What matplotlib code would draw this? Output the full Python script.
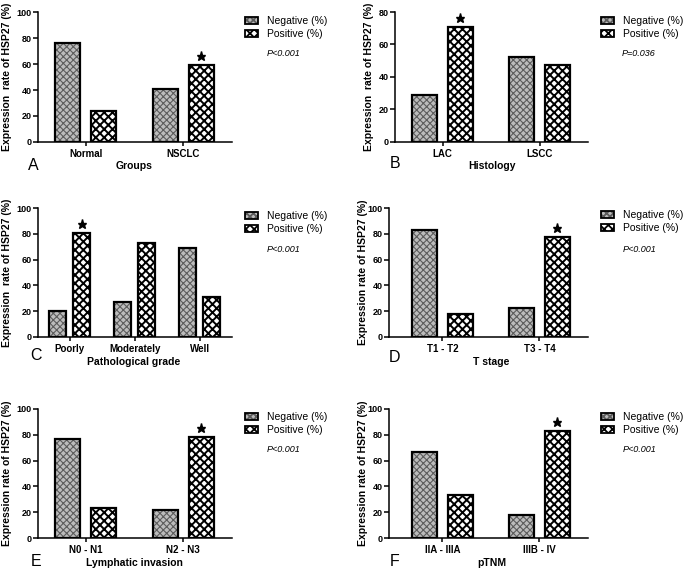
import matplotlib
matplotlib.use("Agg")
import matplotlib.pyplot as plt
from matplotlib.patches import Patch

plt.rcParams['font.family'] = ['Liberation Sans', 'DejaVu Sans']
plt.rcParams['hatch.linewidth'] = 1.3

# ---------------- data ----------------
series_names = ['Negative (%)', 'Positive (%)']

groups_A = ['Normal', 'NSCLC']
neg_A = [76.5, 41.0]
pos_A = [23.5, 59.0]

groups_B = ['LAC', 'LSCC']
neg_B = [29.0, 52.6]
pos_B = [71.0, 47.4]

groups_C = ['Poorly', 'Moderately', 'Well']
neg_C = [20.3, 27.3, 69.0]
pos_C = [80.5, 72.7, 31.0]

groups_D = ['T1 - T2', 'T3 - T4']
neg_D = [83.0, 22.8]
pos_D = [17.5, 77.8]

groups_E = ['N0 - N1', 'N2 - N3']
neg_E = [77.0, 22.0]
pos_E = [23.3, 78.2]

groups_F = ['IIA - IIIA', 'IIIB - IV']
neg_F = [67.0, 17.7]
pos_F = [33.2, 82.6]

xlabels = ['Groups', 'Histology', 'Pathological grade', 'T stage', 'Lymphatic invasion', 'pTNM']
letters = ['A', 'B', 'C', 'D', 'E', 'F']
pvalues = ['P<0.001', 'P=0.036', 'P<0.001', 'P<0.001', 'P<0.001', 'P<0.001']
star_index = [1, 0, 0, 1, 1, 1]
ymaxes = [100, 80, 100, 100, 100, 100]
ylabels = ['Expression  rate of HSP27 (%)', 'Expression  rate of HSP27 (%)',
           'Expression  rate of HSP27 (%)', 'Expression rate of HSP27 (%)',
           'Expression rate of HSP27 (%)', 'Expression rate of HSP27 (%)']

# ---------------- layout ----------------
W, H = 685, 571
fig = plt.figure(figsize=(W / 100, H / 100), dpi=100)

def fx(x):
    return x / W

def fy(y):
    return 1 - y / H

# (left, top, right, bottom) in px
axes_px = [(38, 12, 232, 142), (395, 12, 588, 142),
           (38, 208, 232, 337), (389, 208, 588, 337),
           (38, 409, 232, 538), (389, 409, 588, 538)]
xlim_left = [-0.49, -0.49, -0.49, -0.55, -0.49, -0.55]
ylabel_x = [7, 369, 7, 363, 7, 363]
legend_x = [245, 601, 245, 601, 245, 601]
legend_top = [16, 16, 211, 210, 412, 412]
ptext_xy = [(267, 54), (622, 53), (267, 250), (623, 250), (267, 450), (623, 450)]
letter_xy = [(33, 166), (395, 164), (36, 356), (395, 358), (36, 561), (395, 561)]
xlabel_xy = [(134, 166), (492, 166), (134, 362), (491, 362), (134, 563), (492, 563)]

data = [(groups_A, neg_A, pos_A), (groups_B, neg_B, pos_B), (groups_C, neg_C, pos_C),
        (groups_D, neg_D, pos_D), (groups_E, neg_E, pos_E), (groups_F, neg_F, pos_F)]

bw = 0.26
off = 0.185
NEG_FACE = '#bcbcbc'
NEG_HATCH = '#5c5c5c'
NEG_HATCH_PAT = 'xxxxx'
POS_HATCH_PAT = 'xxxx'


def set_hlw(artists, lw):
    for a in artists:
        if hasattr(a, 'set_hatch_linewidth'):
            try:
                a.set_hatch_linewidth(lw)
            except Exception:
                pass


for i, (groups, neg, pos) in enumerate(data):
    l, t, r, b = axes_px[i]
    ax = fig.add_axes([fx(l), fy(b), fx(r - l), (b - t) / H])
    x = list(range(len(groups)))
    xn = [v - off for v in x]
    xp = [v + off for v in x]
    # negative: grey fine hatch + black outline
    bn = ax.bar(xn, neg, width=bw, color=NEG_FACE, edgecolor=NEG_HATCH,
                hatch=NEG_HATCH_PAT, linewidth=0)
    set_hlw(bn, 0.8)
    ax.bar(xn, neg, width=bw, fill=False, edgecolor='black', linewidth=1.6)
    # positive: black/white coarse check
    bp = ax.bar(xp, pos, width=bw, color='white', edgecolor='black',
                hatch=POS_HATCH_PAT, linewidth=1.6)
    set_hlw(bp, 1.4)

    si = star_index[i]
    ax.plot([xp[si]], [pos[si] + ymaxes[i] * 0.07], marker='*', color='black',
            markersize=6.5, clip_on=False)

    ax.set_xlim(xlim_left[i], len(groups) - 0.5)
    ax.set_ylim(0, ymaxes[i])
    ax.set_yticks(range(0, ymaxes[i] + 1, 20))
    ax.set_xticks(x)
    ax.set_xticklabels(groups, fontsize=7, fontweight='bold')
    for lab in ax.get_yticklabels():
        lab.set_fontsize(6.5)
        lab.set_fontweight('bold')
    for s in ['top', 'right']:
        ax.spines[s].set_visible(False)
    for s in ['left', 'bottom']:
        ax.spines[s].set_linewidth(1.1)
    ax.tick_params(axis='y', direction='out', length=3.5, width=1.1, pad=1.2)
    ax.tick_params(axis='x', direction='out', length=3, width=1.1, pad=2.0)

    # y label
    fig.text(fx(ylabel_x[i]), fy((t + b) / 2), ylabels[i], rotation=90,
             ha='center', va='center', fontsize=7.5, fontweight='bold')
    # x label
    fig.text(fx(xlabel_xy[i][0]), fy(xlabel_xy[i][1]), xlabels[i],
             ha='center', va='center', fontsize=7.5, fontweight='bold')
    # panel letter
    fig.text(fx(letter_xy[i][0]), fy(letter_xy[i][1]), letters[i],
             ha='center', va='center', fontsize=11.5)
    # p-value
    fig.text(fx(ptext_xy[i][0]), fy(ptext_xy[i][1]), pvalues[i],
             ha='left', va='center', fontsize=6.5, style='italic')

    # legend
    hn1 = Patch(facecolor=NEG_FACE, edgecolor=NEG_HATCH, hatch=NEG_HATCH_PAT, linewidth=0)
    hn2 = Patch(fill=False, edgecolor='black', linewidth=1.3)
    hp = Patch(facecolor='white', edgecolor='black', hatch=POS_HATCH_PAT, linewidth=1.3)
    set_hlw([hn1], 0.8)
    set_hlw([hp], 1.4)
    ax.legend([(hn1, hn2), hp], series_names, loc='upper left',
              bbox_to_anchor=(fx(legend_x[i]), fy(legend_top[i])),
              bbox_transform=fig.transFigure, frameon=False, fontsize=7.5,
              handlelength=1.25, handleheight=0.7, handletextpad=0.85,
              labelspacing=0.3, borderpad=0, borderaxespad=0)

fig.savefig('out.png', dpi=100)
